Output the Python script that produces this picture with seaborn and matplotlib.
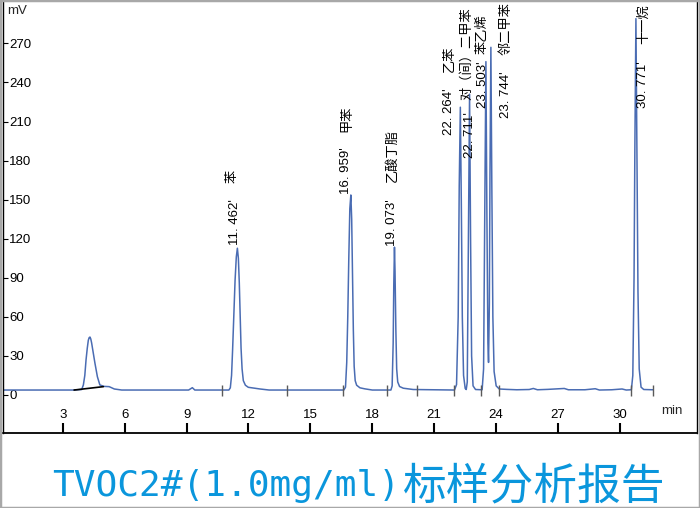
import matplotlib
matplotlib.use("Agg")
import matplotlib.pyplot as plt
from matplotlib.patches import Rectangle
import pandas as pd
import seaborn as sns

# ---------------- data ----------------
time_min = [0.10, 2.00, 3.55, 3.92, 4.00, 4.07, 4.13, 4.19, 4.24, 4.28, 4.32, 4.36, 4.40, 4.48, 4.56, 4.68, 4.80,
            5.00, 5.25, 5.50, 5.86, 9.10, 9.28, 9.40,
            11.05, 11.12, 11.18, 11.23, 11.29, 11.35, 11.41, 11.462, 11.51, 11.555, 11.60, 11.64, 11.69,
            11.75, 11.85, 11.99, 12.30, 12.56, 13.00,
            16.62, 16.70, 16.76, 16.81, 16.86, 16.91, 16.959, 17.00, 17.04, 17.08, 17.12, 17.17, 17.24,
            17.40, 17.64, 18.00,
            18.90, 18.96, 19.01, 19.04, 19.073, 19.10, 19.14, 19.18, 19.23, 19.32, 19.50, 19.98,
            21.98, 22.08, 22.16, 22.21, 22.264, 22.31, 22.36, 22.42, 22.50,
            22.55, 22.60, 22.65, 22.711, 22.76, 22.81, 22.88, 23.00,
            23.32, 23.39, 23.45, 23.503, 23.55, 23.60, 23.63,
            23.67, 23.70, 23.744, 23.79, 23.84, 23.90, 24.00, 24.15,
            24.50, 25.00, 25.60, 25.80, 26.00, 26.50, 27.30, 27.50, 28.30, 28.80, 29.00,
            29.60, 30.10, 30.30,
            30.55, 30.62, 30.68, 30.72, 30.771, 30.82, 30.87, 30.93, 31.02, 31.15, 31.60]
signal_mv = [3.8, 3.8, 3.8, 4.2, 7.7, 15.0, 27.0, 36.0, 42.0, 44.0, 44.5, 43.0, 40.0, 32.0, 24.5, 14.0, 7.7,
             6.6, 6.4, 4.6, 3.8, 3.8, 5.6, 3.8,
             3.8, 5.5, 15.0, 34.5, 62.0, 88.0, 106.0, 112.7, 105.0, 86.0, 60.0, 36.0, 20.0,
             11.0, 7.5, 5.9, 5.2, 4.6, 3.8,
             3.8, 6.0, 25.0, 60.0, 105.0, 143.0, 153.6, 135.0, 95.0, 50.0, 22.0, 11.0, 7.5,
             5.5, 4.7, 3.8,
             3.8, 7.0, 40.0, 85.0, 113.5, 95.0, 50.0, 20.0, 10.0, 6.5, 5.2, 4.2,
             3.8, 8.0, 60.0, 160.0, 221.0, 150.0, 60.0, 15.0, 5.0,
             4.2, 10.0, 110.0, 231.0, 120.0, 30.0, 7.0, 4.2,
             4.0, 20.0, 150.0, 256.0, 140.0, 40.0, 25.0,
             70.0, 170.0, 267.0, 160.0, 60.0, 18.0, 7.0, 4.6,
             4.3, 4.0, 4.2, 5.0, 4.0, 4.3, 5.0, 4.0, 4.0, 4.8, 3.8,
             4.0, 4.6, 3.8,
             4.0, 15.0, 90.0, 190.0, 289.0, 190.0, 80.0, 20.0, 6.0, 4.2, 4.0]

peak_rt = [11.462, 16.959, 19.073, 22.264, 22.711, 23.503, 23.744, 30.771]
peak_height = [112.7, 153.6, 113.5, 221.0, 231.0, 256.0, 267.0, 289.0]
peak_names = ["苯", "甲苯", "乙酸丁脂", "乙苯", "对（间）二甲苯", "苯乙烯", "邻二甲苯", "十一烷"]

marker_times = [10.70, 13.85, 16.58, 18.71, 20.16, 21.96, 23.26, 24.14, 30.53, 31.60]
solvent_baseline_t = [3.55, 4.97]
solvent_baseline_mv = [3.8, 6.4]

x_ticks = [3, 6, 9, 12, 15, 18, 21, 24, 27, 30]
y_ticks = [0, 30, 60, 90, 120, 150, 180, 210, 240, 270]

title_ascii = "TVOC2#(1.0mg/ml)"
title_cjk = "标样分析报告"

# ---------------- layout / style (pixels -> points) ----------------
W, H = 700, 508
PX = 0.72  # points per pixel at dpi 100
rt_offsets_px = [(-2, 3), (-5, 1), (-2, 1), (-11, -28), (0, -64), (-3, -46), (15, -71), (7, -89)]
name_offsets_px = [(-5, 65), (-4, 63), (-2, 65), (-11, 35), (-3, -6), (-4, 8), (15, -8), (8, -25)]

sns.set_theme(style="white")
plt.rcParams["font.family"] = ["Liberation Sans", "Noto Sans CJK SC", "DejaVu Sans"]

fig = plt.figure(figsize=(W / 100, H / 100), dpi=100)
fig.patch.set_facecolor("white")
ax = fig.add_axes([3 / W, 1 - 433 / H, 694 / W, 431 / H])
ax.set_facecolor("white")

df = pd.DataFrame({"time": time_min, "signal": signal_mv})
sns.lineplot(data=df, x="time", y="signal", ax=ax, color="#4a6cb3", lw=1.1,
             sort=False, estimator=None)
ax.plot(solvent_baseline_t, solvent_baseline_mv, color="black", lw=1.2)
ax.vlines(marker_times, -0.5, 7.8, color="#5a5a5a", lw=1.0)

ax.set_xlim(0.1066, 33.73)
ax.set_ylim(-29.2, 301.8)
ax.set_xlabel("")
ax.set_ylabel("")
ax.set_xticks(x_ticks)
ax.set_xticklabels([str(v) for v in x_ticks])
ax.set_yticks(y_ticks)
ax.set_yticklabels([str(v) for v in y_ticks], ha="left")
ax.tick_params(axis="y", direction="in", length=3.6, width=0.8, pad=-4.5,
               labelsize=9.5, colors="black", left=True)
ax.tick_params(axis="x", direction="in", length=7.2, width=1.5, pad=-17.5,
               labelsize=9.5, colors="black", bottom=True)
for side in ["left", "bottom", "right"]:
    ax.spines[side].set_visible(True)
    ax.spines[side].set_color("black")
ax.spines["left"].set_linewidth(1.0)
ax.spines["right"].set_linewidth(1.0)
ax.spines["bottom"].set_linewidth(1.3)
ax.spines["top"].set_visible(False)

rt_font = ["Liberation Sans Narrow", "Liberation Sans", "DejaVu Sans"]
name_font = ["Noto Sans CJK SC", "DejaVu Sans"]
for rt, h, name, (dx, dy), (ndx, ndy) in zip(peak_rt, peak_height, peak_names,
                                              rt_offsets_px, name_offsets_px):
    whole, frac = f"{rt:.3f}".split(".")
    ax.annotate(f"{whole}. {frac}'", xy=(rt, h), xytext=(dx * PX, dy * PX),
                textcoords="offset points", rotation=90, ha="center", va="bottom",
                fontsize=9.5, family=rt_font, color="black", annotation_clip=False)
    ax.annotate(name, xy=(rt, h), xytext=(ndx * PX, ndy * PX),
                textcoords="offset points", rotation=90, ha="center", va="bottom",
                fontsize=9.5, family=name_font, color="black", annotation_clip=False)

fig.text(7 / W, 1 - 11 / H, "mV", fontsize=9.5, ha="left", va="center")
fig.text(672 / W, 1 - 411 / H, "min", fontsize=9.5, ha="center", va="center")

# title below the chart
fig.text(400 / W, 1 - 486 / H, title_ascii, fontsize=26, family=["DejaVu Sans Mono"],
         color="#0a96dc", ha="right", va="center")
fig.text(403 / W, 1 - 486 / H, title_cjk, fontsize=31.5, family=["Noto Sans CJK SC"],
         color="#0a96dc", ha="left", va="center")

fig.patches.append(Rectangle((0, 0), 1, 1, transform=fig.transFigure, fill=False,
                             edgecolor="#a8a8a8", lw=2.5))

fig.savefig("out.png", dpi=100)
